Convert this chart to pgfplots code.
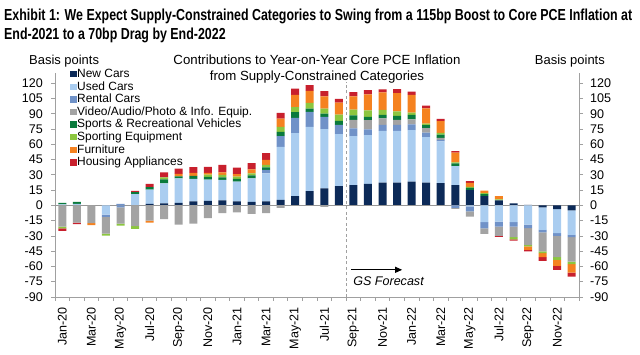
\documentclass[border=0pt]{standalone}
\usepackage{fontspec}
\setmainfont{Liberation Sans}
\usepackage{pgfplots}
\pgfplotsset{compat=1.18}
\usepackage{pgfplotstable}
\usetikzlibrary{arrows.meta}
\definecolor{cNC}{RGB}{12,42,88}
\definecolor{cUC}{RGB}{170,205,240}
\definecolor{cRC}{RGB}{112,146,200}
\definecolor{cVA}{RGB}{163,163,163}
\definecolor{cSR}{RGB}{10,122,60}
\definecolor{cSE}{RGB}{140,198,63}
\definecolor{cFU}{RGB}{245,130,32}
\definecolor{cHA}{RGB}{200,32,45}
\definecolor{axgray}{RGB}{160,160,160}
\definecolor{zgray}{RGB}{150,150,150}
\newsavebox\tA
\newlength\tAw

\pgfplotstableread{
x nc uc rc va sr se fu ha
0 0 1 0 0 1.5 0 0 0
1 0 1.5 0 0 2 0 0 0
2 0 0 0 0 0 0 0 0
3 0 0 0 0 0 0 0 0
4 0 0 1.5 0 0 0 0 0
5 0 11 0 0 2 0 0 1.3
6 1.5 14 0 0 2.5 0 0 3
7 2 19.5 0 0 4 2 0 5
8 2.5 24 0 0 2 0 2.5 5
9 4 22 0 0 3 0 3 5.5
10 4.4 21 0 0 2.6 2.3 1.6 5.9
11 5 20 0 0 2.6 2.3 2.6 7.2
12 4 19.3 0 0 2.6 2.3 2.6 6.2
13 3.4 23 0 0 3 2 4 6
14 4 27.5 3.3 0 2.6 2.3 5 6.5
15 5.4 52 10.5 0 4.3 5 8 5.6
16 9 62 15 0 5.6 5 12 6
17 14 63 14.7 0 3.3 5.6 11.8 5.6
18 16.8 58 12 0 3.3 5 12 5
19 19 51 9 0 4 6 12 3.6
20 20 48 7.5 8.5 4.5 5.5 13 4.3
21 21 48 5.6 9 3.3 6.5 15.7 4
22 22.4 50.7 5.9 6.5 3.3 4.9 17.3 3
23 22.4 50.7 5.9 4.9 4 4.3 18 4
24 23.3 50.7 5.6 4.9 4.3 2.3 17.3 3.3
25 22.4 44.5 4.6 4.3 3 1.5 15 2.6
26 21.8 41 1.5 2 3.3 1.6 11.5 2.3
27 20 18.6 0 0 2.6 1 9.5 1.6
28 15 0 0 0 2.3 0.8 4 1.6
29 9 0 0 0 2 1 2.5 0
30 5 0 0 0 0 1 3 0
31 2 0 0 0 0 0 0 0
32 0.5 0 0 0 0 0 0 0
33 0 0 0 0 0 0 0 0
34 0 0 0 0 0 0 0 0
35 0 0 0 0 0 0 0 0
}\pos

\pgfplotstableread{
x nc uc rc va sr se fu ha
0 0 0 0 -21 0 -1.5 0 -2.5
1 0 0 0 -17 0 0 0 -1.5
2 0 0 0 -17.5 0 0 -2 0
3 0 -9 -2.3 -16.4 0 -2 0 0
4 0 0 -2 -16 0 -2 0 0
5 0 0 0 -20.5 0 -2.5 0 0
6 0 0 0 -15 0 0 -2 0
7 0 0 0 -13.5 0 0 0 0
8 0 0 0 -19 0 0 0 0
9 0 0 0 -18 0 0 0 0
10 0 0 0 -12.5 0 0 0 0
11 0 0 0 -7.5 0 0 0 0
12 0 0 0 -7 0 0 0 0
13 0 0 0 -8.3 0 0 0 0
14 0 0 0 -7.5 0 0 0 0
15 0 0 0 -2.5 0 0 0 0
16 0 0 0 0 0 0 0 0
17 0 0 0 0 0 0 0 0
18 0 0 0 -1.5 0 0 0 0
19 0 0 0 0 0 0 0 0
20 0 0 0 0 0 0 0 0
21 0 0 0 0 0 0 0 0
22 0 0 0 0 0 0 0 0
23 0 0 0 0 0 0 0 0
24 0 0 0 0 0 0 0 0
25 0 0 0 0 0 0 0 0
26 0 0 0 0 0 0 0 0
27 0 0 -2.5 -1 0 0 0 0
28 0 -1 -5 -5 0 0 0 0
29 0 -16.5 -6 -5.6 0 0 0 0
30 0 -16 -5 -9 0 0 0 -1
31 0 -16.5 -4.3 -10.5 0 -2 0 -1.3
32 0 -19 -3.3 -16.4 0 -1.6 -3.3 -1.6
33 -2 -22 -2.6 -18.6 0 -1.6 -4 -3.6
34 -3.8 -23.5 -2.6 -21 0 -2.6 -5.9 -3.9
35 -5 -24 -2.3 -24 0 -2.3 -8.5 -3.9
}\neg

\pgfplotsset{
  mybase/.style={
    scale only axis, width=524bp, height=224bp,
    at={(55bp,57bp)}, anchor=south west,
    xmin=-0.5, xmax=35.5, ymin=-90, ymax=130,
    ybar stacked, bar width=0.55,
    ytick={-90,-75,...,120},
    tick align=outside,
    major tick length=4bp,
    minor tick length=3.5bp,
    tick style={axgray, line width=0.8bp},
    axis line style={draw=axgray, line width=0.9bp},
    ticklabel style={font=\fontsize{12.6}{13}\selectfont},
    /pgf/number format/assume math mode=true,
  }
}

\begin{document}%
\sbox\tA{\fontsize{16}{19}\selectfont\bfseries Exhibit 1: We Expect Supply-Constrained Categories to Swing from a 115bp Boost to Core PCE Inflation at}%
\setlength\tAw{\wd\tA}%
\pgfmathsetmacro\tsc{630.35/\tAw}%
\begin{tikzpicture}[x=1bp,y=1bp]
\useasboundingbox (0,0) rectangle (640,354);
\node[anchor=base west, inner sep=0] at (4,334) {\scalebox{\tsc}[1]{\usebox\tA}};
\node[anchor=base west, inner sep=0] at (4,315) {\scalebox{\tsc}[1]{\fontsize{16}{19}\selectfont\bfseries End-2021 to a 70bp Drag by End-2022}};

\node[anchor=base, inner sep=0, font=\fontsize{13.3}{16}\selectfont] at (317,289.5) {Contributions to Year-on-Year Core PCE Inflation};
\node[anchor=base, inner sep=0, font=\fontsize{13.3}{16}\selectfont] at (317,273.5) {from Supply-Constrained Categories};
\node[anchor=base west, inner sep=0, font=\fontsize{13}{16}\selectfont] at (29,289.7) {Basis points};
\node[anchor=base east, inner sep=0, font=\fontsize{13}{16}\selectfont] at (605,289.7) {Basis points};

\begin{axis}[mybase,
  axis x line*=bottom, axis y line*=left,
  xtick={0,2,...,34},
  xticklabels={Jan-20,Mar-20,May-20,Jul-20,Sep-20,Nov-20,Jan-21,Mar-21,May-21,Jul-21,Sep-21,Nov-21,Jan-22,Mar-22,May-22,Jul-22,Sep-22,Nov-22},
  major x tick style={draw=none},
  minor xtick={-0.5,0.5,...,35.5},
  xticklabel style={rotate=90, anchor=east, inner sep=0pt, xshift=0bp},
  xticklabel shift=6bp,
  yticklabel style={anchor=east, inner sep=0pt},
  yticklabel shift=8bp,
  legend cell align=left,
  legend image code/.code={\fill[#1] (0bp,-3.2bp) rectangle (6.5bp,3.2bp);},
  legend style={at={(0,1)}, anchor=north west, xshift=15bp, yshift=5.3bp,
    draw=none, fill=none, inner sep=0pt, row sep=0pt,
    font=\fontsize{12}{12}\selectfont,
    nodes={text height=9bp, text depth=2.6bp, inner ysep=0.5bp, inner xsep=0.5bp},
    /tikz/every even column/.append style={column sep=2bp}},
]
\addplot[fill=cNC, draw=none] table[x=x,y=nc]{\pos};
\addplot[fill=cUC, draw=none] table[x=x,y=uc]{\pos};
\addplot[fill=cRC, draw=none] table[x=x,y=rc]{\pos};
\addplot[fill=cVA, draw=none] table[x=x,y=va]{\pos};
\addplot[fill=cSR, draw=none] table[x=x,y=sr]{\pos};
\addplot[fill=cSE, draw=none] table[x=x,y=se]{\pos};
\addplot[fill=cFU, draw=none] table[x=x,y=fu]{\pos};
\addplot[fill=cHA, draw=none] table[x=x,y=ha]{\pos};
\legend{New Cars,Used Cars,Rental Cars,Video/Audio/Photo \& Info. Equip.,Sports \& Recreational Vehicles,Sporting Equipment,Furniture,Housing Appliances}
\end{axis}

\begin{axis}[mybase,
  axis x line=none, axis y line*=right,
  xtick=\empty,
  yticklabel style={anchor=west, inner sep=0pt},
  yticklabel shift=7bp,
]
\addplot[fill=cNC, draw=none] table[x=x,y=nc]{\neg};
\addplot[fill=cUC, draw=none] table[x=x,y=uc]{\neg};
\addplot[fill=cRC, draw=none] table[x=x,y=rc]{\neg};
\addplot[fill=cVA, draw=none] table[x=x,y=va]{\neg};
\addplot[fill=cSR, draw=none] table[x=x,y=sr]{\neg};
\addplot[fill=cSE, draw=none] table[x=x,y=se]{\neg};
\addplot[fill=cFU, draw=none] table[x=x,y=fu]{\neg};
\addplot[fill=cHA, draw=none] table[x=x,y=ha]{\neg};
\draw[zgray, line width=1.2bp] (axis cs:-0.5,0) -- (axis cs:35.5,0);
\draw[axgray, line width=0.8bp, dash pattern=on 3bp off 2.5bp] (axis cs:19.5,-90) -- (axis cs:19.5,121);
\draw[black, line width=0.9bp, -{Triangle[length=7bp,width=6bp]}] (axis cs:19.85,-63.3) -- (axis cs:23.35,-63.3);
\node[anchor=base west, inner sep=0, font=\itshape\fontsize{12.6}{14}\selectfont] at (axis cs:19.98,-79) {GS Forecast};
\end{axis}
\end{tikzpicture}
\end{document}
